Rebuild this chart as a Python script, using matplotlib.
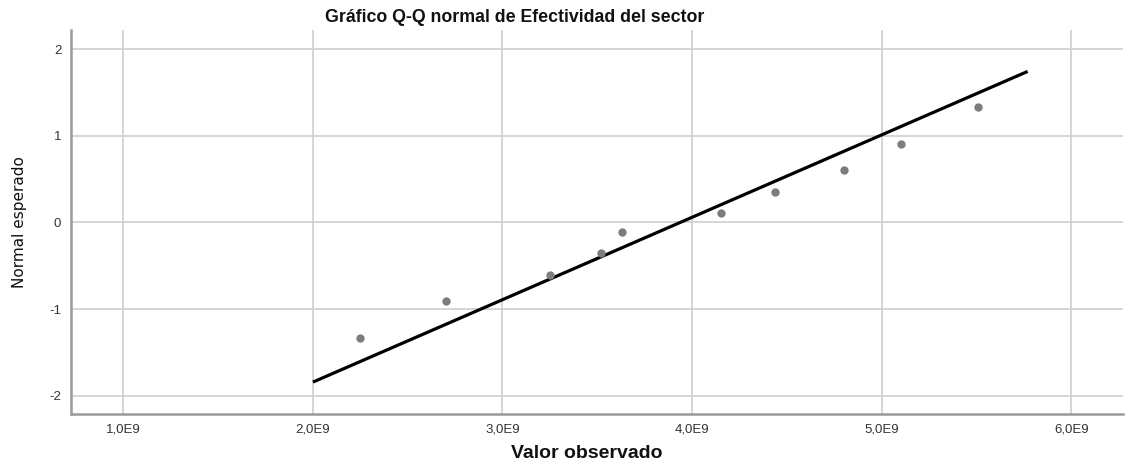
import matplotlib
matplotlib.use("Agg")
import matplotlib.pyplot as plt
from matplotlib.ticker import FuncFormatter

# Data
observed = [2.25e9, 2.70e9, 3.25e9, 3.52e9, 3.63e9, 4.15e9, 4.44e9, 4.80e9, 5.10e9, 5.51e9]
expected_normal = [-1.335, -0.908, -0.605, -0.349, -0.114, 0.114, 0.349, 0.605, 0.908, 1.335]
line_x = [2.0e9, 5.77e9]
line_y = [-1.842, 1.742]
x_ticks = [1e9, 2e9, 3e9, 4e9, 5e9, 6e9]
y_ticks = [-2, -1, 0, 1, 2]

title = "Gráfico Q-Q normal de Efectividad del sector"
xlabel = "Valor observado"
ylabel = "Normal esperado"

W, H = 1125, 468
fig = plt.figure(figsize=(W / 100, H / 100), dpi=100)
plt.rcParams['font.family'] = ['Liberation Sans', 'DejaVu Sans']

left, right, top, bottom = 71, 1123, 30, 414
ax = fig.add_axes([left / W, (H - bottom) / H, (right - left) / W, (bottom - top) / H])

ax.set_xlim(0.724e9, 6.273e9)
ax.set_ylim(-2.21, 2.22)
ax.set_xticks(x_ticks)
ax.set_yticks(y_ticks)
ax.xaxis.set_major_formatter(FuncFormatter(lambda v, p: f"{v/1e9:.1f}E9".replace('.', ',')))
ax.yaxis.set_major_formatter(FuncFormatter(lambda v, p: f"{int(v)}"))

ax.grid(True, color='#d2d2d2', linewidth=1.3, zorder=0)
ax.set_axisbelow(True)
for s in ['top', 'right']:
    ax.spines[s].set_visible(False)
for s in ['left', 'bottom']:
    ax.spines[s].set_color('#9a9a9a')
    ax.spines[s].set_linewidth(1.8)
ax.tick_params(length=0, labelsize=9.5, labelcolor='#333333', pad=7)

ax.plot(line_x, line_y, color='black', linewidth=2.3, zorder=3, solid_capstyle='butt')
ax.plot(observed, expected_normal, 'o', color='#7d7d7d', markersize=6, markeredgewidth=0, zorder=4)

fig.text(515 / W, 1 - 17 / H, title, ha='center', va='center', fontsize=12.8, fontweight='bold', color='#111111')
fig.text(587 / W, 1 - 453 / H, xlabel, ha='center', va='center', fontsize=14, fontweight='bold', color='#111111')
fig.text(20 / W, 1 - 222 / H, ylabel, ha='center', va='center', rotation=90, fontsize=11,
         family=['Liberation Sans Narrow', 'DejaVu Sans Condensed', 'DejaVu Sans'], color='#111111')

fig.savefig("out.png", dpi=100)
